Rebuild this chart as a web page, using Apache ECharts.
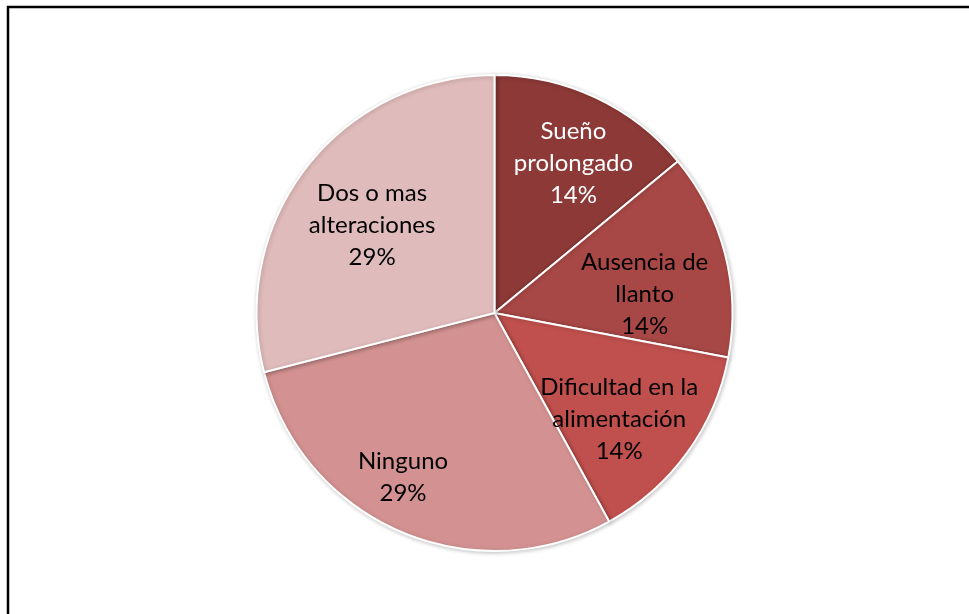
<!DOCTYPE html>
<html>
<head>
<meta charset="utf-8">
<script src="https://cdn.jsdelivr.net/npm/echarts@6/dist/echarts.min.js"></script>
<style>
  html, body { margin: 0; padding: 0; background: #ffffff; }
  #chart { width: 969px; height: 614px; }
</style>
</head>
<body>
<div id="chart"></div>
<script>
// Categories and their shares (percent)
const categories = [
  'Sueño\nprolongado',
  'Ausencia de\nllanto',
  'Dificultad en la\nalimentación',
  'Ninguno',
  'Dos o mas\nalteraciones'
];
const shares = [14, 14, 14, 29, 29];
const sliceColors = ['#8C3937', '#A84846', '#C0504D', '#D39291', '#E0BBBB'];
const labelColors = ['#ffffff', '#000000', '#000000', '#000000', '#000000'];
// Small nudges of each label away from the slice's radial midpoint
const labelNudges = [[27, -39], [32, 12], [26, 35], [-43, 52], [-26, -13]];

const chart = echarts.init(document.getElementById('chart'), null, { renderer: 'canvas' });

chart.setOption({
  backgroundColor: '#ffffff',
  animation: false,
  graphic: [{
    type: 'rect',
    shape: { x: 8, y: 7, width: 1200, height: 1200 },
    style: { fill: 'none', stroke: '#000000', lineWidth: 2.5 },
    z: 0
  }],
  series: [{
    type: 'pie',
    center: [494.5, 313],
    radius: [0, 238],
    startAngle: 90,
    clockwise: true,
    avoidLabelOverlap: false,
    itemStyle: {
      borderColor: '#ffffff',
      borderWidth: 2,
      shadowBlur: 4,
      shadowColor: 'rgba(0,0,0,0.22)',
      shadowOffsetX: 1,
      shadowOffsetY: 1
    },
    label: {
      show: true,
      position: 'inside',
      formatter: '{b}\n{d}%',
      fontFamily: 'Lato',
      fontSize: 24,
      lineHeight: 32,
      align: 'center'
    },
    labelLine: { show: false },
    labelLayout: function (params) {
      const n = labelNudges[params.dataIndex];
      return { dx: n[0], dy: n[1] };
    },
    emphasis: { disabled: true },
    data: categories.map((name, i) => ({
      name: name,
      value: shares[i],
      itemStyle: { color: sliceColors[i] },
      label: { color: labelColors[i] }
    }))
  }]
});
</script>
</body>
</html>
